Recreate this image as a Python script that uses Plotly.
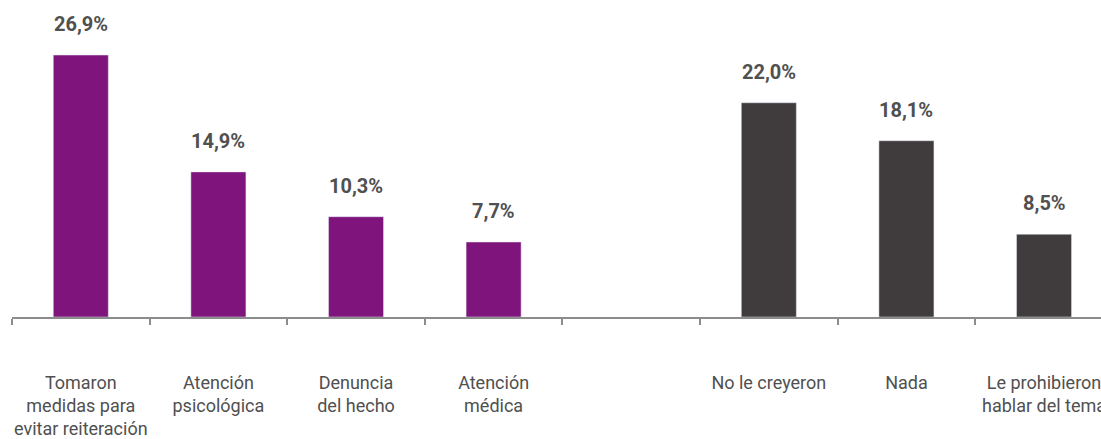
import plotly.graph_objects as go

# categories in display order; " " is the empty gap slot between the two groups
CATEGORIES = [
    "Tomaron<br>medidas para<br>evitar reiteración",
    "Atención<br>psicológica",
    "Denuncia<br>del hecho",
    "Atención<br>médica",
    " ",
    "No le creyeron",
    "Nada",
    "Le prohibieron<br>hablar del tema",
]

ACTION_CATS = CATEGORIES[0:4]
ACTION_VALS = [26.9, 14.9, 10.3, 7.7]

NEG_CATS = CATEGORIES[5:8]
NEG_VALS = [22.0, 18.1, 8.5]

_C_PURPLE = "#7F157C"
_C_DARK = "#403B3D"
_C_TEXT = "#505050"
_C_AXIS = "#8C8C8C"
_FONT = "Roboto, Liberation Sans Narrow, DejaVu Sans Condensed, sans-serif"

fig = go.Figure()
fig.add_trace(go.Bar(
    x=ACTION_CATS + [" "],
    y=ACTION_VALS + [None],
    marker_color=_C_PURPLE,
    width=0.4,
    hoverinfo="skip",
))
fig.add_trace(go.Bar(
    x=NEG_CATS,
    y=NEG_VALS,
    marker_color=_C_DARK,
    width=0.4,
    hoverinfo="skip",
))

for cat, val in zip(ACTION_CATS + NEG_CATS, ACTION_VALS + NEG_VALS):
    fig.add_annotation(
        x=cat, y=val,
        text=f"<b>{val:.1f}%</b>".replace(".", ","),
        showarrow=False,
        yanchor="bottom",
        yshift=17,
        font={"family": _FONT, "size": 20, "color": _C_TEXT},
    )

fig.update_layout(
    width=1101,
    height=439,
    paper_bgcolor="white",
    plot_bgcolor="white",
    barmode="overlay",
    showlegend=False,
    margin={"l": 12, "r": 0, "t": 0, "b": 122},
    font={"family": _FONT, "color": _C_TEXT, "size": 18},
)
fig.update_xaxes(
    type="category",
    categoryorder="array",
    categoryarray=CATEGORIES,
    range=[-0.5, 7.414],
    automargin=False,
    tickangle=0,
    showline=True,
    linecolor=_C_AXIS,
    linewidth=2,
    ticks="outside",
    tickson="boundaries",
    ticklen=6,
    tickwidth=2,
    tickcolor=_C_AXIS,
    ticklabelstandoff=48,
    tickfont={"family": _FONT, "size": 18, "color": _C_TEXT},
    showgrid=False,
    zeroline=False,
)
fig.update_yaxes(
    visible=False,
    automargin=False,
    range=[0, 32.55],
    showgrid=False,
    zeroline=False,
)

# drop the browser's default 8px body margin so the figure sits at the page corner
fig.write_html(
    "out.html",
    config={"displayModeBar": False},
    post_script="document.body.style.margin='0';",
)
